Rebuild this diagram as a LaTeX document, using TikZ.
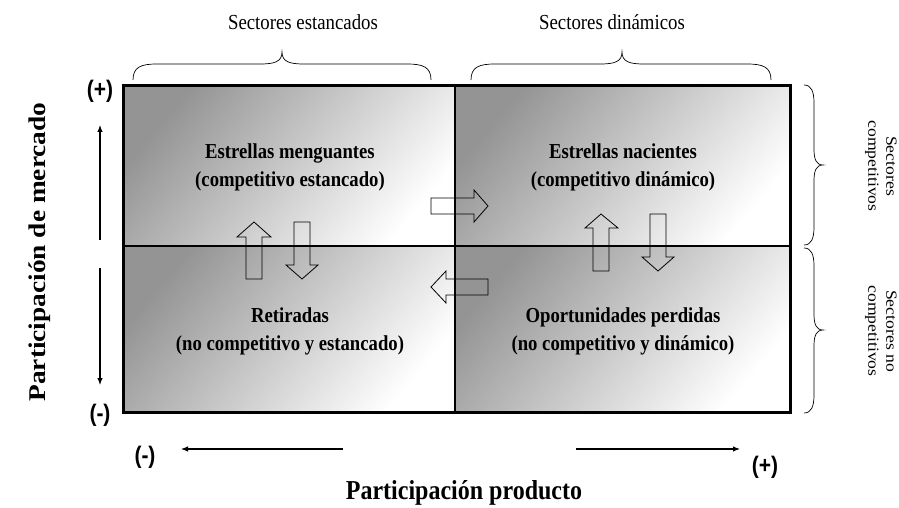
\documentclass[tikz,border=0pt]{standalone}
\usepackage{fontspec}
\setmainfont{Liberation Serif}
\newfontfamily\signfont{Liberation Sans}
\usetikzlibrary{arrows.meta}
\newcommand{\vst}[1]{\scalebox{1}[1.14]{#1}}
\newcommand{\hst}[1]{\scalebox{1.14}[1]{#1}}
\begin{document}
\begin{tikzpicture}[x=1pt,y=-1pt,
  quad/.style={shading=axis, top color=white, bottom color=black!42, shading angle=-130},
  qtext/.style={font=\fontsize{18.7}{24.3}\selectfont\bfseries, inner sep=0pt, align=center},
  toptext/.style={font=\fontsize{18.8}{22}\selectfont, inner sep=0pt},
  sidetext/.style={font=\fontsize{15.5}{18}\selectfont, inner sep=0pt, rotate=-90},
  axtitle/.style={font=\fontsize{24}{28}\selectfont\bfseries, inner sep=0pt},
  sign/.style={font=\signfont\fontsize{21}{24}\selectfont\bfseries, inner sep=0pt},
  axarrow/.style={line width=1.1pt, -{Latex[length=7pt,width=5.5pt]}},
  blockarrow/.style={draw=black, line width=0.8pt, line join=miter},
  bracestyle/.style={draw=black, line width=0.7pt},
  frameline/.style={draw=black, line width=2pt},
  outerframe/.style={draw=black, line width=3pt}
]
\useasboundingbox (0,0) rectangle (899,508);

% quadrant shadings
\shade[quad] (123,86) rectangle (455,246);
\shade[quad] (455,86) rectangle (790,246);
\shade[quad] (123,246) rectangle (455,412);
\shade[quad] (455,246) rectangle (790,412);

% block arrows (outlines only)
\draw[blockarrow] (431,198) -- (474,198) -- (474,190) -- (488,206) -- (474,222) -- (474,214) -- (431,214) -- cycle;
\draw[blockarrow] (488,279) -- (446,279) -- (446,271) -- (431,287) -- (446,303) -- (446,295) -- (488,295) -- cycle;
\draw[blockarrow] (246,279) -- (246,237) -- (237,237) -- (254,222) -- (271,237) -- (262,237) -- (262,279) -- cycle;
\draw[blockarrow] (294,222) -- (310,222) -- (310,265) -- (318,265) -- (302,279) -- (286,265) -- (294,265) -- cycle;
\draw[blockarrow] (593,271) -- (593,228) -- (585,228) -- (601,214) -- (618,228) -- (609,228) -- (609,271) -- cycle;
\draw[blockarrow] (650,214) -- (666,214) -- (666,257) -- (674,257) -- (658,271) -- (642,257) -- (650,257) -- cycle;

% frame
\draw[frameline] (455,86) -- (455,412);
\draw[frameline] (123,246) -- (790,246);
\draw[outerframe] (123,86) rectangle (790,412);

% quadrant labels
\node[qtext] (tl) at (290,167) {\vst{\begin{tabular}{@{}c@{}}Estrellas menguantes\\(competitivo estancado)\end{tabular}}};
\node[qtext] (tr) at (623,167) {\vst{\begin{tabular}{@{}c@{}}Estrellas nacientes\\(competitivo dinámico)\end{tabular}}};
\node[qtext] (bl) at (290,331) {\vst{\begin{tabular}{@{}c@{}}Retiradas\\(no competitivo y estancado)\end{tabular}}};
\node[qtext] (br) at (623,331) {\vst{\begin{tabular}{@{}c@{}}Oportunidades perdidas\\(no competitivo y dinámico)\end{tabular}}};

% top braces and labels
\foreach \a/\m/\b in {133/282/431, 471/622/771}{
  \draw[bracestyle] (\a,80) .. controls (\a,67) and ({\a+8},64) .. ({\a+24},64) -- ({\m-22},64)
     .. controls ({\m-8},64) and (\m,62) .. (\m,52)
     .. controls (\m,62) and ({\m+8},64) .. ({\m+22},64) -- ({\b-24},64)
     .. controls ({\b-8},64) and (\b,67) .. (\b,80);
}
\node[toptext] (sest) at (303,22) {\vst{Sectores estancados}};
\node[toptext] (sdin) at (612,22) {\vst{Sectores dinámicos}};

% right braces and labels
\foreach \a/\m/\b in {85/165/245, 248/330/413}{
  \draw[bracestyle] (804,\a) .. controls (811,\a) and (814,{\a+6}) .. (814,{\a+18}) -- (814,{\m-16})
     .. controls (814,{\m-6}) and (816,\m) .. (823,\m)
     .. controls (816,\m) and (814,{\m+6}) .. (814,{\m+16}) -- (814,{\b-18})
     .. controls (814,{\b-6}) and (811,\b) .. (804,\b);
}
\node[sidetext] (scomp) at (881,166) {\hst{\begin{tabular}{@{}c@{}}Sectores\\competitivos\end{tabular}}};
\node[sidetext] (snocomp) at (881,331) {\hst{\begin{tabular}{@{}c@{}}Sectores no\\competitivos\end{tabular}}};

% axis titles
\node[axtitle, rotate=90] (ymk) at (40,252) {\hst{Participación de mercado}};
\node[axtitle] (xpr) at (464,493) {\vst{Participación producto}};

% signs
\node[sign] (yplus) at (100,91) {\vst{(+)}};
\node[sign] (yminus) at (100,415) {\vst{(-)}};
\node[sign] (xminus) at (145,457) {\vst{(-)}};
\node[sign] (xplus) at (765,467) {\vst{(+)}};

% axis arrows
\coordinate (yu0) at (100,240);
\coordinate (yu1) at (100,125);
\coordinate (yd0) at (100,268);
\coordinate (yd1) at (100,385);
\coordinate (xl0) at (343,449);
\coordinate (xl1) at (181,449);
\coordinate (xr0) at (576,449);
\coordinate (xr1) at (740,449);
\draw[axarrow] (yu0) -- (yu1);
\draw[axarrow] (yd0) -- (yd1);
\draw[axarrow] (xl0) -- (xl1);
\draw[axarrow] (xr0) -- (xr1);
\end{tikzpicture}
\end{document}
